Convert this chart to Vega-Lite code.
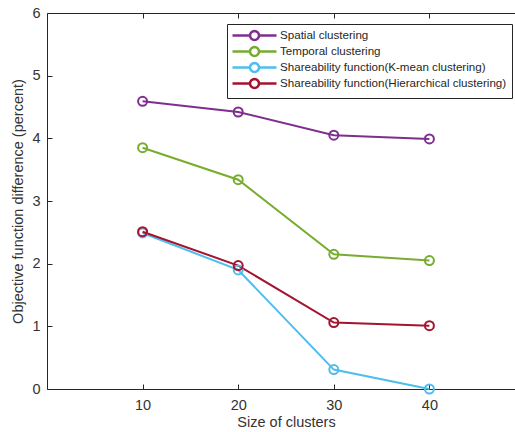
{
  "$schema": "https://vega.github.io/schema/vega-lite/v6.json",
  "width": 478,
  "height": 376,
  "autosize": "none",
  "padding": {"left": 47, "top": 13, "right": 0, "bottom": 43},
  "data": {"values": [
    {"size": 10, "value": 4.59, "method": "Spatial clustering"},
    {"size": 20, "value": 4.42, "method": "Spatial clustering"},
    {"size": 30, "value": 4.05, "method": "Spatial clustering"},
    {"size": 40, "value": 3.99, "method": "Spatial clustering"},
    {"size": 10, "value": 3.85, "method": "Temporal clustering"},
    {"size": 20, "value": 3.34, "method": "Temporal clustering"},
    {"size": 30, "value": 2.15, "method": "Temporal clustering"},
    {"size": 40, "value": 2.05, "method": "Temporal clustering"},
    {"size": 10, "value": 2.49, "method": "Shareability function(K-mean clustering)"},
    {"size": 20, "value": 1.9, "method": "Shareability function(K-mean clustering)"},
    {"size": 30, "value": 0.31, "method": "Shareability function(K-mean clustering)"},
    {"size": 40, "value": 0.0, "method": "Shareability function(K-mean clustering)"},
    {"size": 10, "value": 2.51, "method": "Shareability function(Hierarchical clustering)"},
    {"size": 20, "value": 1.97, "method": "Shareability function(Hierarchical clustering)"},
    {"size": 30, "value": 1.06, "method": "Shareability function(Hierarchical clustering)"},
    {"size": 40, "value": 1.01, "method": "Shareability function(Hierarchical clustering)"}
  ]},
  "layer": [
    {
      "mark": {"type": "line", "strokeWidth": 2},
      "encoding": {
        "x": {"field": "size", "type": "quantitative", "scale": {"domain": [0, 50], "nice": false, "zero": false},
              "axis": {"orient": "bottom", "values": [10, 20, 30, 40], "title": "Size of clusters", "titlePadding": 4, "labelPadding": 9}},
        "y": {"field": "value", "type": "quantitative", "scale": {"domain": [0, 6], "nice": false},
              "axis": {"orient": "left", "values": [0, 1, 2, 3, 4, 5, 6], "format": "d", "title": "Objective function difference (percent)", "titlePadding": 6, "labelPadding": 7}},
        "color": {"field": "method", "type": "nominal",
          "scale": {"domain": ["Spatial clustering", "Temporal clustering", "Shareability function(K-mean clustering)", "Shareability function(Hierarchical clustering)"],
                    "range": ["#7E2F8E", "#77AC30", "#4DBEEE", "#A2142F"]},
          "legend": {
            "title": null, "orient": "none", "legendX": 180, "legendY": 11,
            "symbolType": "M-4.4,0H-0.9M0.9,0H4.4M0.9,0L0.8315,0.3444L0.6364,0.6364L0.3444,0.8315L0,0.9L-0.3444,0.8315L-0.6364,0.6364L-0.8315,0.3444L-0.9,0L-0.8315,-0.3444L-0.6364,-0.6364L-0.3444,-0.8315L0,-0.9L0.3444,-0.8315L0.6364,-0.6364L0.8315,-0.3444Z",
            "symbolSize": 100, "symbolStrokeWidth": 2.5, "symbolFillColor": "transparent",
            "symbolOffset": 16, "labelOffset": 19,
            "labelFont": "Liberation Sans", "labelFontSize": 11.6, "labelColor": "#262626", "labelLimit": 400,
            "rowPadding": -5, "padding": 5,
            "strokeColor": "#262626", "fillColor": "white"
          }}
      }
    },
    {
      "mark": {"type": "point", "filled": false, "size": 81, "strokeWidth": 2, "opacity": 1},
      "encoding": {
        "x": {"field": "size", "type": "quantitative",
              "axis": {"orient": "top", "values": [10, 20, 30, 40], "labels": false, "title": null}},
        "y": {"field": "value", "type": "quantitative"},
        "color": {"field": "method", "type": "nominal"}
      }
    }
  ],
  "resolve": {"axis": {"x": "independent"}},
  "config": {
    "view": {"stroke": "#262626", "strokeWidth": 1},
    "axis": {
      "grid": false,
      "domain": false,
      "offset": -5,
      "tickColor": "#262626",
      "tickSize": 5,
      "tickWidth": 1,
      "labelColor": "#333333",
      "titleColor": "#333333",
      "labelFont": "Liberation Sans",
      "titleFont": "Liberation Sans",
      "labelFontSize": 14.5,
      "titleFontSize": 14.5,
      "titleFontWeight": "normal"
    }
  }
}
